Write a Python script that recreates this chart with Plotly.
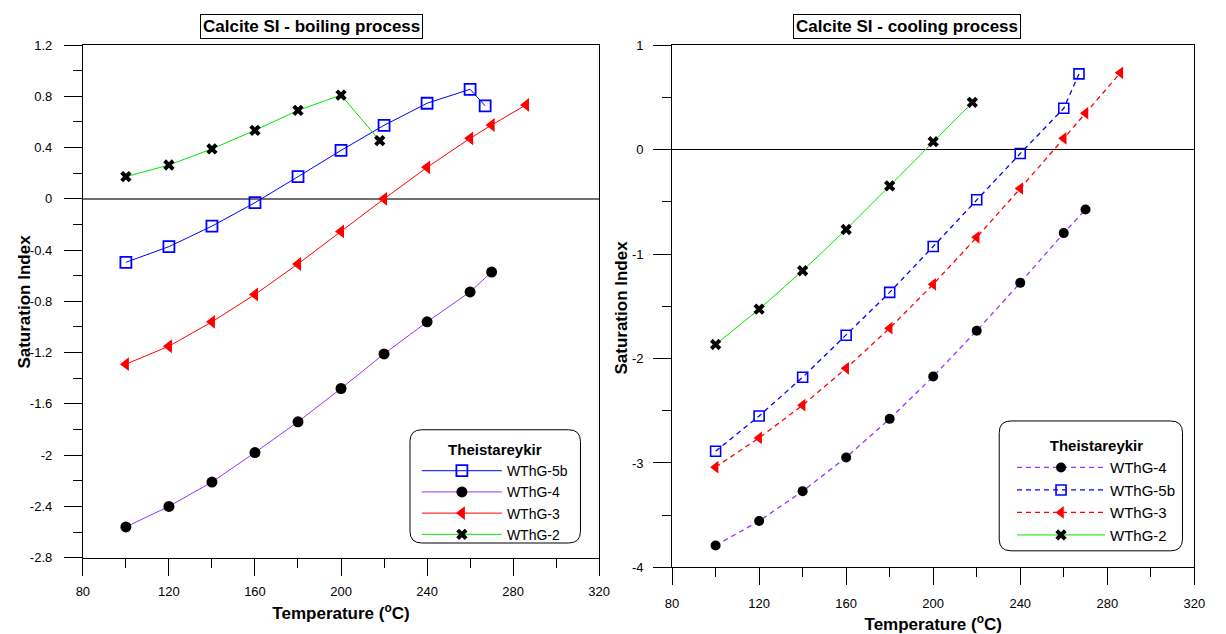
import plotly.graph_objects as go

# ---------------- data: boiling process ----------------
T_5b_boil = [100, 120, 140, 160, 180, 200, 220, 240, 260, 267]
SI_5b_boil = [-0.495, -0.373, -0.213, -0.03, 0.173, 0.378, 0.574, 0.746, 0.855, 0.726]
T_4_boil = [100, 120, 140, 160, 180, 200, 220, 240, 260, 270]
SI_4_boil = [-2.56, -2.40, -2.21, -1.98, -1.74, -1.48, -1.21, -0.96, -0.726, -0.571]
T_3_boil = [100, 120, 140, 160, 180, 200, 220, 240, 260, 270, 286]
SI_3_boil = [-1.29, -1.15, -0.96, -0.746, -0.508, -0.254, 0.0, 0.246, 0.472, 0.576, 0.733]
T_2_boil = [100, 120, 140, 160, 180, 200, 218]
SI_2_boil = [0.173, 0.264, 0.39, 0.535, 0.69, 0.81, 0.454]

# ---------------- data: cooling process ----------------
T_4_cool = [100, 120, 140, 160, 180, 200, 220, 240, 260, 270]
SI_4_cool = [-3.79, -3.556, -3.27, -2.947, -2.578, -2.172, -1.734, -1.276, -0.80, -0.574]
T_5b_cool = [100, 120, 140, 160, 180, 200, 220, 240, 260, 267]
SI_5b_cool = [-2.888, -2.55, -2.18, -1.778, -1.367, -0.928, -0.48, -0.038, 0.395, 0.724]
T_3_cool = [100, 120, 140, 160, 180, 200, 220, 240, 260, 270, 286]
SI_3_cool = [-3.04, -2.76, -2.447, -2.094, -1.71, -1.29, -0.84, -0.373, 0.107, 0.348, 0.734]
T_2_cool = [100, 120, 140, 160, 180, 200, 218]
SI_2_cool = [-1.866, -1.528, -1.16, -0.765, -0.348, 0.075, 0.451]

# ---------------- tick labels ----------------
x_ticks = [80, 120, 160, 200, 240, 280, 320]
x_ticktext = ["80", "120", "160", "200", "240", "280", "320"]
y1_ticks = [1.2, 0.8, 0.4, 0, -0.4, -0.8, -1.2, -1.6, -2.0, -2.4, -2.8]
y1_ticktext = ["1.2", "0.8", "0.4", "0", "-0.4", "-0.8", "-1.2", "-1.6", "-2", "-2.4", "-2.8"]
y2_ticks = [1, 0, -1, -2, -3, -4]
y2_ticktext = ["1", "0", "-1", "-2", "-3", "-4"]

FONT = "Arial, Liberation Sans, sans-serif"
BLUE = "#0000FF"
PURPLE = "#9933FF"
RED = "#FF0000"
GREEN = "#00E600"
DASH = "5px,4px"

fig = go.Figure()

# boiling traces (left)
fig.add_trace(go.Scatter(x=T_5b_boil, y=SI_5b_boil, name="WThG-5b", mode="lines+markers",
                         line=dict(color=BLUE, width=1),
                         marker=dict(symbol="square-open", size=11, color=BLUE, line=dict(width=1.8, color=BLUE)),
                         xaxis="x", yaxis="y", legend="legend"))
fig.add_trace(go.Scatter(x=T_4_boil, y=SI_4_boil, name="WThG-4", mode="lines+markers",
                         line=dict(color=PURPLE, width=1),
                         marker=dict(symbol="circle", size=11, color="black"),
                         xaxis="x", yaxis="y", legend="legend"))
fig.add_trace(go.Scatter(x=T_3_boil, y=SI_3_boil, name="WThG-3", mode="lines+markers",
                         line=dict(color=RED, width=1),
                         marker=dict(symbol="triangle-left", size=12, color=RED),
                         xaxis="x", yaxis="y", legend="legend"))
fig.add_trace(go.Scatter(x=T_2_boil, y=SI_2_boil, name="WThG-2", mode="lines+markers",
                         line=dict(color=GREEN, width=1),
                         marker=dict(symbol="x", size=10, color="black", line=dict(width=0)),
                         xaxis="x", yaxis="y", legend="legend"))

# cooling traces (right)
fig.add_trace(go.Scatter(x=T_4_cool, y=SI_4_cool, name="WThG-4", mode="lines+markers",
                         line=dict(color=PURPLE, width=1.3, dash=DASH),
                         marker=dict(symbol="circle", size=10, color="black"),
                         xaxis="x2", yaxis="y2", legend="legend2"))
fig.add_trace(go.Scatter(x=T_5b_cool, y=SI_5b_cool, name="WThG-5b", mode="lines+markers",
                         line=dict(color=BLUE, width=1.3, dash=DASH),
                         marker=dict(symbol="square-open", size=10, color=BLUE, line=dict(width=1.6, color=BLUE)),
                         xaxis="x2", yaxis="y2", legend="legend2"))
fig.add_trace(go.Scatter(x=T_3_cool, y=SI_3_cool, name="WThG-3", mode="lines+markers",
                         line=dict(color=RED, width=1.3, dash=DASH),
                         marker=dict(symbol="triangle-left", size=11, color=RED),
                         xaxis="x2", yaxis="y2", legend="legend2"))
fig.add_trace(go.Scatter(x=T_2_cool, y=SI_2_cool, name="WThG-2", mode="lines+markers",
                         line=dict(color=GREEN, width=1),
                         marker=dict(symbol="x", size=10, color="black", line=dict(width=0)),
                         xaxis="x2", yaxis="y2", legend="legend2"))

W, H = 1226, 634
L1, R1, T1, B1 = 77, 601, 39, 564
L2, R2, T2, B2 = 675, 1205, 39, 574

def px_x(p):
    return p / W

def px_y(p):
    return 1 - p / H

axis_common = dict(showline=True, linecolor="black", linewidth=1, mirror=True,
                   ticks="outside", tickcolor="black", showgrid=False,
                   tickfont=dict(family=FONT, size=13, color="black"))

xtitle = dict(text="<b>Temperature (<sup>o</sup>C)</b>", font=dict(family=FONT, size=17, color="black"), standoff=8)

fig.update_layout(
    width=W, height=H,
    margin=dict(l=0, r=0, t=0, b=0),
    paper_bgcolor="white", plot_bgcolor="white",
    font=dict(family=FONT, color="black"),
    xaxis=dict(domain=[px_x(L1), px_x(R1)], range=[80, 320], anchor="y",
               tickvals=x_ticks, ticktext=x_ticktext, ticklen=17, ticklabelstandoff=5,
               minor=dict(dtick=20, tick0=80, ticklen=9, ticks="outside", tickcolor="black"),
               title=xtitle, zeroline=False, **axis_common),
    yaxis=dict(domain=[px_y(B1), px_y(T1)], range=[-2.8, 1.2], anchor="x",
               tickvals=y1_ticks, ticktext=y1_ticktext, ticklen=18, ticklabelstandoff=9,
               minor=dict(dtick=0.2, tick0=0, ticklen=9, ticks="outside", tickcolor="black"),
               zeroline=True, zerolinecolor="#707070", zerolinewidth=2, **axis_common),
    xaxis2=dict(domain=[px_x(L2), px_x(R2)], range=[80, 320], anchor="y2",
                tickvals=x_ticks, ticktext=x_ticktext, ticklen=17, ticklabelstandoff=7,
                minor=dict(dtick=20, tick0=80, ticklen=9, ticks="outside", tickcolor="black"),
                title=xtitle, zeroline=False, **axis_common),
    yaxis2=dict(domain=[px_y(B2), px_y(T2)], range=[-4, 1], anchor="x2",
                tickvals=y2_ticks, ticktext=y2_ticktext, ticklen=18, ticklabelstandoff=7,
                minor=dict(dtick=0.5, tick0=0, ticklen=9, ticks="outside", tickcolor="black"),
                zeroline=True, zerolinecolor="black", zerolinewidth=1.2, **axis_common),
    legend=dict(x=px_x(416), y=px_y(439), xanchor="left", yanchor="top",
                bgcolor="rgba(0,0,0,0)", borderwidth=0,
                title=dict(text="<b>Theistareykir</b>", side="top center", font=dict(size=15)),
                font=dict(family=FONT, size=14), itemwidth=80, tracegroupgap=0),
    legend2=dict(x=px_x(1020), y=px_y(435), xanchor="left", yanchor="top",
                 bgcolor="rgba(0,0,0,0)", borderwidth=0,
                 title=dict(text="<b>Theistareykir</b>", side="top center", font=dict(size=15)),
                 font=dict(family=FONT, size=15), itemwidth=88, tracegroupgap=0),
    showlegend=True,
)

# y-axis titles
fig.add_annotation(text="<b>Saturation Index</b>", xref="paper", yref="paper",
                   x=px_x(18), y=px_y(302), xanchor="center", yanchor="middle", textangle=-90,
                   showarrow=False, font=dict(family=FONT, size=17, color="black"))
fig.add_annotation(text="<b>Saturation Index</b>", xref="paper", yref="paper",
                   x=px_x(624), y=px_y(308), xanchor="center", yanchor="middle", textangle=-90,
                   showarrow=False, font=dict(family=FONT, size=17, color="black"))

# titles (boxed)
fig.add_annotation(text="<b>Calcite SI - boiling process</b>", xref="paper", yref="paper",
                   x=px_x(309), y=px_y(20), xanchor="center", yanchor="middle", showarrow=False,
                   font=dict(family=FONT, size=17, color="black"),
                   bordercolor="black", borderwidth=1, borderpad=2, bgcolor="white")
fig.add_annotation(text="<b>Calcite SI - cooling process</b>", xref="paper", yref="paper",
                   x=px_x(913), y=px_y(20), xanchor="center", yanchor="middle", showarrow=False,
                   font=dict(family=FONT, size=17, color="black"),
                   bordercolor="black", borderwidth=1, borderpad=2, bgcolor="white")

# rounded legend boxes
def rounded_box(x0, y0, x1, y1, r=12):
    X = lambda p: p / W
    Y = lambda p: 1 - p / H
    return (f"M {X(x0 + r)} {Y(y0)} L {X(x1 - r)} {Y(y0)} Q {X(x1)} {Y(y0)} {X(x1)} {Y(y0 + r)} "
            f"L {X(x1)} {Y(y1 - r)} Q {X(x1)} {Y(y1)} {X(x1 - r)} {Y(y1)} "
            f"L {X(x0 + r)} {Y(y1)} Q {X(x0)} {Y(y1)} {X(x0)} {Y(y1 - r)} "
            f"L {X(x0)} {Y(y0 + r)} Q {X(x0)} {Y(y0)} {X(x0 + r)} {Y(y0)} Z")

fig.add_shape(type="path", xref="paper", yref="paper", path=rounded_box(409, 433, 582, 549),
              line=dict(color="black", width=1), fillcolor="white", layer="below")
fig.add_shape(type="path", xref="paper", yref="paper", path=rounded_box(1007, 424, 1193, 557),
              line=dict(color="black", width=1), fillcolor="white", layer="below")

fig.write_html("out.html")
